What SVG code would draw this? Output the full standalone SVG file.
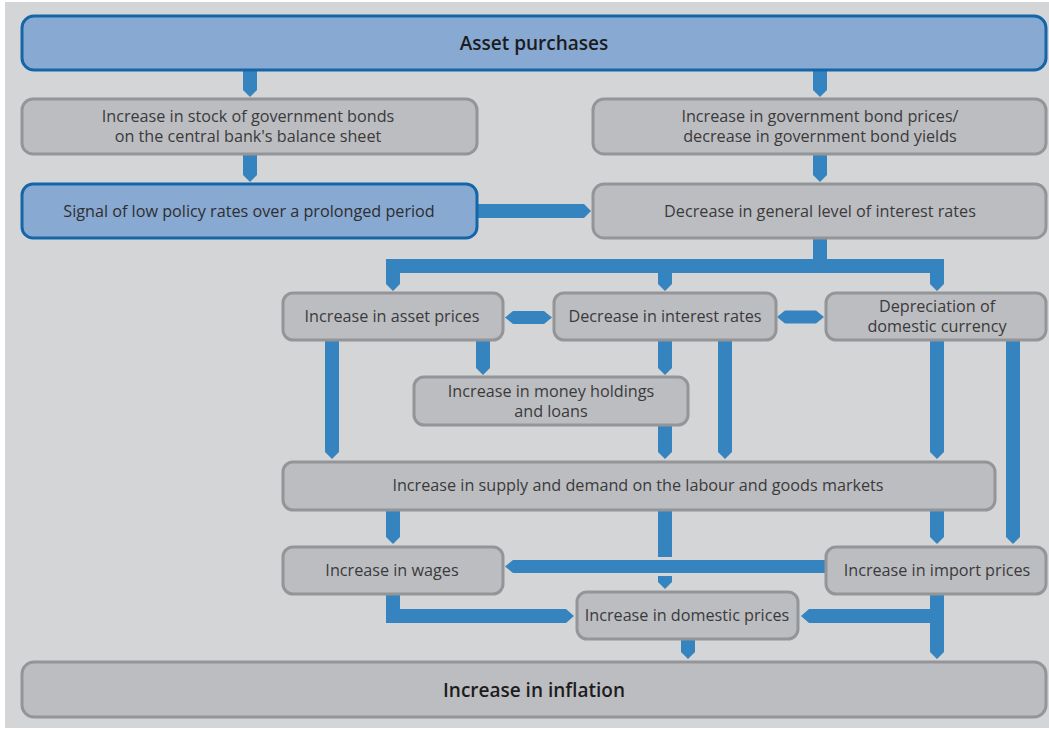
<svg xmlns="http://www.w3.org/2000/svg" width="1049" height="730" viewBox="0 0 1049 730">
<style>
.bg{fill:#d4d5d7}
.g{fill:#bcbdc0;stroke:#939598;stroke-width:3}
.b{fill:#88a9d1;stroke:#1566a8;stroke-width:3}
.t{font-family:"Open Sans","Liberation Sans",sans-serif;font-size:16.2px;fill:#3a3a3c;text-anchor:middle}
.tb{font-family:"Open Sans","Liberation Sans",sans-serif;font-size:19px;font-weight:600;fill:#1c1c1e;text-anchor:middle}
.c{fill:#3584bf}
</style>
<rect x="0" y="0" width="1049" height="730" fill="#ffffff"/>
<rect class="bg" x="5" y="2" width="1044" height="726"/>
<g id="connectors">
<path class="c" d="M243,70H257V90L250,97L243,90Z"/>
<path class="c" d="M813,70H827V90L820,97L813,90Z"/>
<path class="c" d="M243,154H257V175L250,182L243,175Z"/>
<path class="c" d="M813,154H827V175L820,182L813,175Z"/>
<path class="c" d="M477,204H584L591,211L584,218H477Z"/>
<path class="c" d="M813,238H827V259H944V284L937,291L930,284V273H672V284L665,291L658,284V273H400V284L393,291L386,284V259H813Z"/>
<path class="c" d="M505,317.5L513,311H544L552,317.5L544,324H513Z"/>
<path class="c" d="M777,317L785,310.5H816L824,317L816,323.5H785Z"/>
<path class="c" d="M325,340H339V452L332,459L325,452Z"/>
<path class="c" d="M476,340H490V368L483,375L476,368Z"/>
<path class="c" d="M658,340H672V368L665,375L658,368Z"/>
<path class="c" d="M718,340H732V452L725,459L718,452Z"/>
<path class="c" d="M658,425H672V452L665,459L658,452Z"/>
<path class="c" d="M930,340H944V452L937,459L930,452Z"/>
<path class="c" d="M1006,340H1020V537L1013,544L1006,537Z"/>
<path class="c" d="M386,510H400V537L393,544L386,537Z"/>
<path class="c" d="M658,510H672V557H658Z"/>
<path class="c" d="M658,576H672V582L665,589L658,582Z"/>
<path class="c" d="M930,510H944V537L937,544L930,537Z"/>
<path class="c" d="M826,560V573H513L505,566.5L513,560Z"/>
<path class="c" d="M386,594H400V609H566L574,616L566,623H386Z"/>
<path class="c" d="M930,594H944V652L937,659L930,652V623H809L801,616L809,609H930Z"/>
<path class="c" d="M681,639H695V652L688,659L681,652Z"/>
</g>
<g id="n-asset"><rect class="b" x="22" y="16" width="1024" height="54" rx="12"/><text class="tb" x="534" y="50">Asset purchases</text></g>
<g id="n-stock"><rect class="g" x="22" y="99" width="455" height="55" rx="11"/><text class="t" x="248" y="122">Increase in stock of government bonds</text><text class="t" x="248" y="142">on the central bank's balance sheet</text></g>
<g id="n-signal"><rect class="b" x="22" y="184" width="455" height="54" rx="11"/><text class="t" style="fill:#2e2e30" x="249" y="217">Signal of low policy rates over a prolonged period</text></g>
<g id="n-bondprices"><rect class="g" x="593" y="99" width="453" height="55" rx="11"/><text class="t" x="820" y="122">Increase in government bond prices/</text><text class="t" x="820" y="142">decrease in government bond yields</text></g>
<g id="n-general"><rect class="g" x="593" y="184" width="453" height="54" rx="11"/><text class="t" x="820" y="217">Decrease in general level of interest rates</text></g>
<g id="n-assetprices"><rect class="g" x="283" y="293" width="220" height="47" rx="10"/><text class="t" x="392" y="322">Increase in asset prices</text></g>
<g id="n-interest"><rect class="g" x="554" y="293" width="222" height="47" rx="10"/><text class="t" x="665" y="322">Decrease in interest rates</text></g>
<g id="n-depreciation"><rect class="g" x="826" y="293" width="220" height="47" rx="10"/><text class="t" x="937" y="312">Depreciation of</text><text class="t" x="937" y="332">domestic currency</text></g>
<g id="n-money"><rect class="g" x="414" y="377" width="274" height="48" rx="10"/><text class="t" x="551" y="397">Increase in money holdings</text><text class="t" x="551" y="417">and loans</text></g>
<g id="n-supply"><rect class="g" x="283" y="462" width="712" height="48" rx="10"/><text class="t" x="638" y="491">Increase in supply and demand on the labour and goods markets</text></g>
<g id="n-wages"><rect class="g" x="283" y="547" width="220" height="47" rx="10"/><text class="t" x="392" y="576">Increase in wages</text></g>
<g id="n-import"><rect class="g" x="826" y="547" width="220" height="47" rx="10"/><text class="t" x="937" y="576">Increase in import prices</text></g>
<g id="n-domestic"><rect class="g" x="577" y="592" width="221" height="47" rx="10"/><text class="t" x="687" y="621">Increase in domestic prices</text></g>
<g id="n-inflation"><rect class="g" x="22" y="662" width="1024" height="55" rx="12"/><text class="tb" x="534" y="697">Increase in inflation</text></g>
</svg>
